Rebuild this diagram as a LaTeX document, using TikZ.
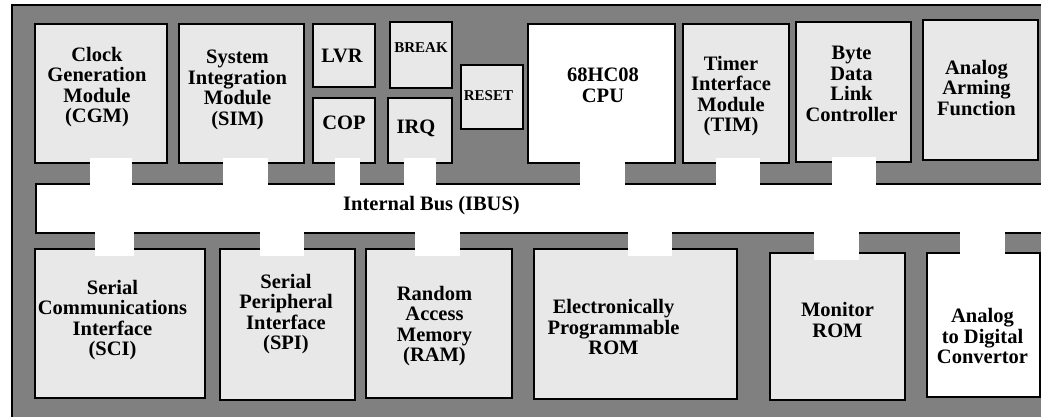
\documentclass[tikz,border=0pt]{standalone}
\usepackage{fontspec}
\setmainfont{Liberation Serif}
\usetikzlibrary{calc}
\definecolor{bggray}{HTML}{808080}
\definecolor{boxgray}{HTML}{E8E8E8}
\tikzset{
  blk/.style={draw, line width=1.6pt, fill=boxgray, inner sep=0pt},
  plain/.style={blk, fill=white},
  lbl/.style={align=center, font=\bfseries\fontsize{20.5}{20.5}\selectfont},
  smalllbl/.style={align=center, font=\bfseries\fontsize{15}{15}\selectfont},
  tap/.style={fill=white},
}
\begin{document}
\begin{tikzpicture}[x=1pt, y=-1pt]
  \useasboundingbox (0,0) rectangle (1041,416);
  % chip outline
  \draw[fill=bggray, line width=1.6pt] (12,5) rectangle (1070,440);

  % internal bus
  \node[draw, fill=white, line width=1.6pt, inner sep=0pt, anchor=north west,
        minimum width=1040pt, minimum height=49pt] (bus) at (35,183) {};

  % upper modules
  \node[blk, minimum width=132pt, minimum height=139pt] (cgm) at (101,93.5) {};
  \node[blk, minimum width=125pt, minimum height=139pt] (sim) at (241.5,93.5) {};
  \node[blk, minimum width=62pt, minimum height=63pt] (lvr) at (344,55.5) {};
  \node[blk, minimum width=62pt, minimum height=65pt] (cop) at (344,130.5) {};
  \node[blk, minimum width=62pt, minimum height=66pt] (brk) at (421,55) {};
  \node[blk, minimum width=64pt, minimum height=65pt] (irq) at (420,130.5) {};
  \node[blk, minimum width=62pt, minimum height=64pt] (rst) at (492,97) {};
  \node[plain, minimum width=147pt, minimum height=139pt] (cpu) at (601.5,93.5) {};
  \node[blk, minimum width=106pt, minimum height=139pt] (tim) at (736,93.5) {};
  \node[blk, minimum width=115pt, minimum height=140pt] (bdlc) at (853.5,92) {};
  \node[blk, minimum width=115pt, minimum height=140pt] (aaf) at (980.5,90) {};

  % lower modules
  \node[blk, minimum width=170pt, minimum height=149pt] (sci) at (120,323.5) {};
  \node[blk, minimum width=135pt, minimum height=151pt] (spi) at (287.5,324.5) {};
  \node[blk, minimum width=146pt, minimum height=149pt] (ram) at (439,323.5) {};
  \node[blk, minimum width=203pt, minimum height=150pt] (eprom) at (635.5,324) {};
  \node[blk, minimum width=135pt, minimum height=147pt] (mon) at (837.5,326.5) {};
  \node[plain, minimum width=113pt, minimum height=144pt] (adc) at (983.5,325) {};

  % bus taps
  \foreach \n/\a/\b in {cgm/-11/31, sim/-18.5/26.5, cop/-9/16, irq/-16/16,
                        cpu/-21.5/23.5, tim/-20/24, bdlc/-21.5/22.5}
    \fill[tap] ($(\n.south)+(\a,-6)$) rectangle ($(\n.south |- bus.north)+(\b,3)$);
  \foreach \n/\a/\b in {sci/-25/14, spi/-27.5/16.5, ram/-24/21, eprom/-7.5/36.5,
                        mon/-23.5/21.5, adc/-23.5/21.5}
    \fill[tap] ($(\n.north)+(\a,8)$) rectangle ($(\n.north |- bus.south)+(\b,-3)$);

  % labels
  \node[lbl] (bus-txt) at (431.5,206) {Internal Bus (IBUS)};
  \node[lbl, xshift=-4pt, yshift=6.5pt] (cgm-txt) at (cgm) {Clock\\Generation\\Module\\(CGM)};
  \node[lbl, xshift=-4pt, yshift=3.5pt] (sim-txt) at (sim) {System\\Integration\\Module\\(SIM)};
  \node[lbl, xshift=-2pt] (lvr-txt) at (lvr) {LVR};
  \node[lbl, yshift=7.5pt] (cop-txt) at (cop) {COP};
  \node[smalllbl, yshift=7pt] (brk-txt) at (brk) {BREAK};
  \node[lbl, xshift=-4pt, yshift=2.5pt] (irq-txt) at (irq) {IRQ};
  \node[smalllbl, xshift=-3.5pt, yshift=1pt] (rst-txt) at (rst) {RESET};
  \node[lbl, xshift=1.5pt, yshift=8pt] (cpu-txt) at (cpu) {68HC08\\CPU};
  \node[lbl, xshift=-5pt, yshift=-2.5pt] (tim-txt) at (tim) {Timer\\Interface\\Module\\(TIM)};
  \node[lbl, xshift=-2pt, yshift=8pt] (bdlc-txt) at (bdlc) {Byte\\Data\\Link\\Controller};
  \node[lbl, xshift=-4pt, yshift=2pt] (aaf-txt) at (aaf) {Analog\\Arming\\Function};
  \node[lbl, xshift=-7.5pt, yshift=3.5pt] (sci-txt) at (sci) {Serial\\Communications\\Interface\\(SCI)};
  \node[lbl, xshift=-1.5pt, yshift=10.5pt] (spi-txt) at (spi) {Serial\\Peripheral\\Interface\\(SPI)};
  \node[lbl, xshift=-4.5pt, yshift=-2.5pt] (ram-txt) at (ram) {Random\\Access\\Memory\\(RAM)};
  \node[lbl, xshift=-22pt, yshift=-3pt] (eprom-txt) at (eprom) {Electronically\\Programmable\\ROM};
  \node[lbl, yshift=6.5pt] (mon-txt) at (mon) {Monitor\\ROM};
  \node[lbl, xshift=-1pt, yshift=-11pt] (adc-txt) at (adc) {Analog\\to Digital\\Convertor};
\end{tikzpicture}
\end{document}
